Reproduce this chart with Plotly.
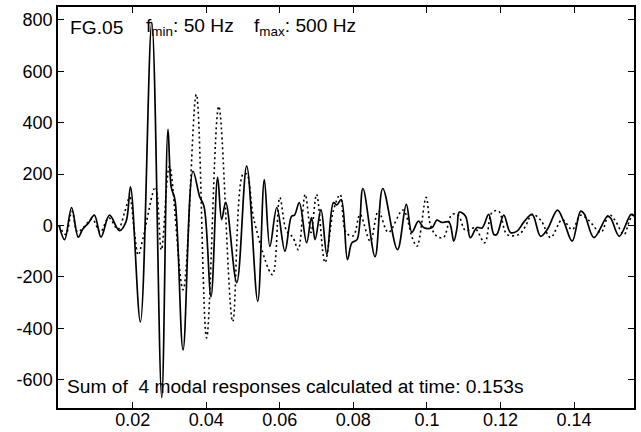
import plotly.graph_objects as go

# Solid curve (time in s, response)
t_solid = [0.0000, 0.0015, 0.0034, 0.0052, 0.0064, 0.0080, 0.0096, 0.0114, 0.0137, 0.0164,
           0.0182, 0.0194, 0.0221, 0.0252, 0.0279, 0.0296, 0.0305, 0.0315, 0.0337, 0.0364,
           0.0382, 0.0394, 0.0413, 0.0431, 0.0442, 0.0453, 0.0483, 0.0510, 0.0540, 0.0558,
           0.0573, 0.0592, 0.0614, 0.0632, 0.0640, 0.0653, 0.0673, 0.0686, 0.0696, 0.0712,
           0.0728, 0.0746, 0.0755, 0.0767, 0.0784, 0.0796, 0.0810, 0.0826, 0.0859, 0.0880,
           0.0920, 0.0944, 0.0959, 0.0977, 0.0991, 0.1014, 0.1027, 0.1040, 0.1060, 0.1073,
           0.1082, 0.1088, 0.1105, 0.1118, 0.1136, 0.1150, 0.1168, 0.1182, 0.1190, 0.1209,
           0.1227, 0.1245, 0.1263, 0.1286, 0.1309, 0.1327, 0.1355, 0.1373, 0.1395, 0.1418,
           0.1428, 0.1454, 0.1491, 0.1500, 0.1523, 0.1555, 0.1563]
r_solid = [0, -55, 70, -45, -15, 10, 40, -45, 40, -20,
           15, 150, -375, 790, -670, 374, 148, 100, -484, 211,
           113, 74, -277, 187, 23, 90, -222, 231, -295, 179,
           -81, 70, -100, 36, 40, 89, -67, 31, -55, 62,
           -113, 89, 80, 101, -133, -67, -55, 144, -121, 144,
           -94, 82, -27, 17, -8, -8, 21, 12, 13, -61,
           -8, 52, 36, -47, -8, -10, 43, -35, -35, 40,
           -27, -22, 12, 43, -42, -16, 60, 12, -61, 56,
           45, -47, 36, 28, -42, 43, 36]

# Dotted curve
t_dotted = [0.0000, 0.0018, 0.0035, 0.0050, 0.0068, 0.0090, 0.0112, 0.0135, 0.0160, 0.0178,
            0.0192, 0.0205, 0.0215, 0.0228, 0.0262, 0.0278, 0.0300, 0.0337, 0.0373, 0.0401,
            0.0434, 0.0472, 0.0500, 0.0510, 0.0530, 0.0580, 0.0600, 0.0618, 0.0636, 0.0650,
            0.0669, 0.0685, 0.0700, 0.0723, 0.0746, 0.0764, 0.0780, 0.0800, 0.0818, 0.0846,
            0.0868, 0.0895, 0.0935, 0.0960, 0.0973, 0.0998, 0.1010, 0.1027, 0.1045, 0.1068,
            0.1085, 0.1105, 0.1130, 0.1157, 0.1177, 0.1195, 0.1218, 0.1250, 0.1268, 0.1286,
            0.1310, 0.1336, 0.1368, 0.1395, 0.1418, 0.1440, 0.1473, 0.1495, 0.1510, 0.1536,
            0.1550, 0.1563]
r_dotted = [0, -35, 55, -25, -5, 25, -25, 30, -15, 50,
            110, -30, -115, -50, 150, -95, 230, -250, 510, -437,
            464, -374, 200, 200, 20, -191, 109, -20, -47, -94,
            121, -27, 121, -144, 60, 120, -27, -40, 43, -61,
            56, -27, 60, -47, -81, 110, 0, -42, -47, 43,
            40, -20, -10, -67, 51, 56, -35, -35, -3, 43,
            20, -47, 23, -16, 40, 20, -27, 43, 23, -35,
            17, 51]

x_ticks = [0.02, 0.04, 0.06, 0.08, 0.1, 0.12, 0.14]
x_tick_labels = ["0.02", "0.04", "0.06", "0.08", "0.1", "0.12", "0.14"]
y_ticks = [-600, -400, -200, 0, 200, 400, 600, 800]
y_tick_labels = ["-600", "-400", "-200", "0", "200", "400", "600", "800"]

FONT = "Liberation Sans, Arial, Helvetica, sans-serif"
W, H = 641, 432
L, R, T, B = 58, 7, 7, 24
PW, PH = W - L - R, H - T - B

def px(xp):
    return (xp - L) / PW

def py(yp):
    return (H - B - yp) / PH

fig = go.Figure()
fig.add_trace(go.Scatter(x=t_dotted, y=r_dotted, mode="lines",
                         line=dict(color="black", width=1.6, dash="2px,3px", shape="spline", smoothing=1.0),
                         showlegend=False, hoverinfo="skip"))
fig.add_trace(go.Scatter(x=t_solid, y=r_solid, mode="lines",
                         line=dict(color="black", width=1.7, shape="spline", smoothing=1.0),
                         showlegend=False, hoverinfo="skip"))

fs = 19.2
ann = [
    dict(text="FG.05", x=px(68), y=py(27)),
    dict(text="f<sub>min</sub>: 50 Hz", x=px(144), y=py(27)),
    dict(text="f<sub>max</sub>: 500 Hz", x=px(252), y=py(27)),
    dict(text="Sum of\u00a0 4 modal responses calculated at time: 0.153s", x=px(65), y=py(386)),
]
for a in ann:
    fig.add_annotation(text=a["text"], x=a["x"], y=a["y"], xref="paper", yref="paper",
                       xanchor="left", yanchor="middle", showarrow=False,
                       font=dict(family=FONT, size=fs, color="black"))

fig.update_xaxes(range=[-0.0003, 0.1563], tickvals=x_ticks, ticktext=x_tick_labels,
                 ticks="inside", ticklen=6, tickcolor="black", tickwidth=1,
                 showline=True, linecolor="black", linewidth=1.5, mirror="ticks",
                 showgrid=False, zeroline=False, automargin=False, ticklabelstandoff=-5,
                 tickfont=dict(family=FONT, size=18, color="black"))
fig.update_yaxes(range=[-710, 850], tickvals=y_ticks, ticktext=y_tick_labels,
                 ticks="inside", ticklen=6, tickcolor="black", tickwidth=1,
                 showline=True, linecolor="black", linewidth=1.5, mirror="ticks",
                 showgrid=False, zeroline=False, automargin=False,
                 tickfont=dict(family=FONT, size=18, color="black"))
fig.update_layout(width=W, height=H, margin=dict(l=L, r=R, t=T, b=B, autoexpand=False),
                  paper_bgcolor="white", plot_bgcolor="white")

fig.write_html("out.html", config={"displayModeBar": False},
               post_script="document.body.style.margin='0';")
